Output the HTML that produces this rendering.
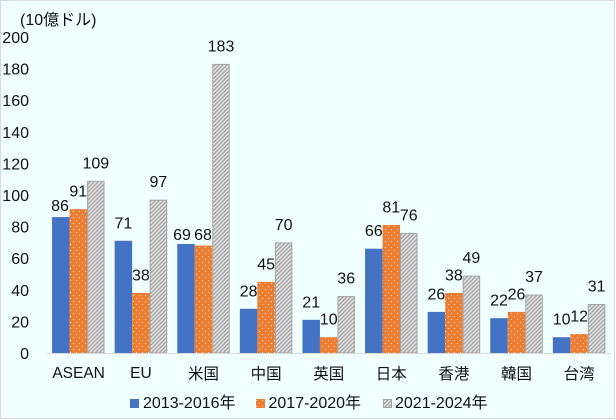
<!DOCTYPE html>
<html><head><meta charset="utf-8">
<style>
html,body{margin:0;padding:0;background:#fff;}
svg{display:block;}
text{font-family:"Liberation Sans","Noto Sans CJK JP",sans-serif;fill:#111;}
</style></head>
<body>
<svg width="616" height="420" viewBox="0 0 616 420" xmlns="http://www.w3.org/2000/svg">
<defs>
<pattern id="dots" width="6" height="6" patternUnits="userSpaceOnUse">
<rect width="6" height="6" fill="#ED7D31"/>
<rect x="1" y="1" width="1" height="1" fill="#fbe3d3"/>
<rect x="4" y="4" width="1" height="1" fill="#fbe3d3"/>
</pattern>
<pattern id="hatch" width="4" height="4" patternUnits="userSpaceOnUse">
<rect width="4" height="4" fill="#e6e6e6"/>
<path d="M-1,1 L1,-1 M0,4 L4,0 M3,5 L5,3" stroke="#a5a5a5" stroke-width="1.4"/>
</pattern>
</defs>
<rect x="0.5" y="0.5" width="614" height="418" fill="#F0FFFF" stroke="#d9d9d9" stroke-width="1"/>

<text x="20" y="25" font-size="16">(10億ドル)</text>

<g font-size="16" text-anchor="end">
<text x="29" y="43">200</text>
<text x="29" y="74.6">180</text>
<text x="29" y="106.2">160</text>
<text x="29" y="137.8">140</text>
<text x="29" y="169.4">120</text>
<text x="29" y="201">100</text>
<text x="29" y="232.6">80</text>
<text x="29" y="264.2">60</text>
<text x="29" y="295.8">40</text>
<text x="29" y="327.4">20</text>
<text x="29" y="359">0</text>
</g>

<!-- blue -->
<g fill="#4472C4">
<rect x="52.05" y="217.1" width="17.5" height="135.9"/>
<rect x="114.65" y="240.8" width="17.5" height="112.2"/>
<rect x="177.25" y="244.0" width="17.5" height="109.0"/>
<rect x="239.85" y="308.8" width="17.5" height="44.2"/>
<rect x="302.45" y="319.8" width="17.5" height="33.2"/>
<rect x="365.05" y="248.7" width="17.5" height="104.3"/>
<rect x="427.65" y="311.9" width="17.5" height="41.1"/>
<rect x="490.25" y="318.2" width="17.5" height="34.8"/>
<rect x="552.85" y="337.2" width="17.5" height="15.8"/>
</g>
<!-- orange -->
<g fill="url(#dots)">
<rect x="69.55" y="209.2" width="17.5" height="143.8"/>
<rect x="132.15" y="293.0" width="17.5" height="60.0"/>
<rect x="194.75" y="245.6" width="17.5" height="107.4"/>
<rect x="257.35" y="281.9" width="17.5" height="71.1"/>
<rect x="319.95" y="337.2" width="17.5" height="15.8"/>
<rect x="382.55" y="225.0" width="17.5" height="128.0"/>
<rect x="445.15" y="293.0" width="17.5" height="60.0"/>
<rect x="507.75" y="311.9" width="17.5" height="41.1"/>
<rect x="570.35" y="334.0" width="17.5" height="19.0"/>
</g>
<!-- gray hatch -->
<g fill="url(#hatch)" stroke="#a5a5a5" stroke-width="1">
<rect x="87.55" y="181.3" width="16.5" height="171.7"/>
<rect x="150.15" y="200.2" width="16.5" height="152.8"/>
<rect x="212.75" y="64.4" width="16.5" height="288.6"/>
<rect x="275.35" y="242.9" width="16.5" height="110.1"/>
<rect x="337.95" y="296.6" width="16.5" height="56.4"/>
<rect x="400.55" y="233.4" width="16.5" height="119.6"/>
<rect x="463.15" y="276.1" width="16.5" height="76.9"/>
<rect x="525.75" y="295.0" width="16.5" height="58.0"/>
<rect x="588.35" y="304.5" width="16.5" height="48.5"/>
</g>

<line x1="47" y1="353.5" x2="611" y2="353.5" stroke="#d9d9d9" stroke-width="1"/>

<!-- data labels -->
<g font-size="16" text-anchor="middle">
<text x="60" y="211">86</text>
<text x="78.3" y="196.5">91</text>
<text x="95.8" y="168.3">109</text>

<text x="123.4" y="228.3">71</text>
<text x="140.9" y="280.5">38</text>
<text x="158.4" y="187.2">97</text>

<text x="182" y="240">69</text>
<text x="203" y="240">68</text>
<text x="221" y="51.4">183</text>

<text x="248.6" y="296.3">28</text>
<text x="266.1" y="269.4">45</text>
<text x="283.6" y="229.9">70</text>

<text x="311.2" y="307.3">21</text>
<text x="328.7" y="324.7">10</text>
<text x="346.2" y="283.6">36</text>

<text x="373.8" y="236.2">66</text>
<text x="391.3" y="212.5">81</text>
<text x="408.8" y="220.4">76</text>

<text x="436.4" y="299.4">26</text>
<text x="453.9" y="280.5">38</text>
<text x="471.4" y="263.1">49</text>

<text x="499" y="305.7">22</text>
<text x="516.5" y="299.4">26</text>
<text x="534" y="282">37</text>

<text x="561.6" y="324.7">10</text>
<text x="579.1" y="321.5">12</text>
<text x="596.6" y="291.5">31</text>
</g>

<!-- category labels -->
<g font-size="15.5" text-anchor="middle">
<text x="78.6" y="378">ASEAN</text>
<text x="140.9" y="378">EU</text>
<text x="203.5" y="379">米国</text>
<text x="266.1" y="379">中国</text>
<text x="328.7" y="379">英国</text>
<text x="391.3" y="379">日本</text>
<text x="453.9" y="379">香港</text>
<text x="516.5" y="379">韓国</text>
<text x="579.1" y="379">台湾</text>
</g>

<!-- legend -->
<rect x="130" y="399" width="9" height="9" fill="#4472C4"/>
<text x="143" y="408" font-size="16">2013-2016年</text>
<rect x="256" y="399" width="9" height="9" fill="url(#dots)"/>
<text x="268.5" y="408" font-size="16">2017-2020年</text>
<rect x="383.5" y="399.5" width="8" height="8" fill="url(#hatch)" stroke="#a5a5a5" stroke-width="1"/>
<text x="395" y="408" font-size="16">2021-2024年</text>
</svg>
</body></html>
